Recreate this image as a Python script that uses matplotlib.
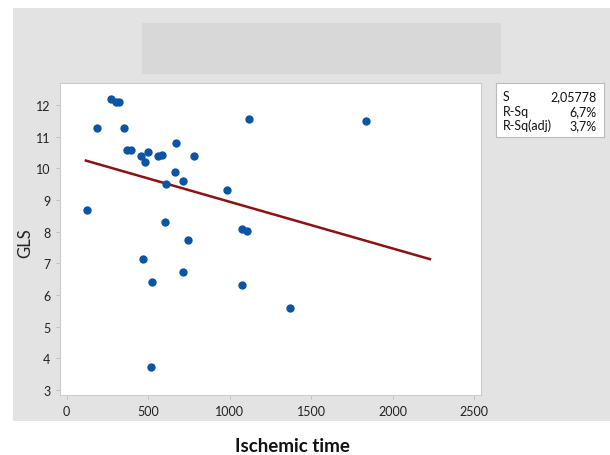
import matplotlib.pyplot as plt
from matplotlib.patches import Rectangle

# data
ischemic_time = [125, 184, 270, 302, 323, 352, 368, 394, 454, 480, 501, 558, 585,
                 611, 664, 671, 715, 781, 982, 1118, 605, 1077, 1106, 742, 468,
                 715, 525, 1077, 1368, 519, 1840]
gls = [8.68, 11.27, 12.17, 12.10, 12.09, 11.27, 10.57, 10.57, 10.38, 10.21, 10.51,
       10.38, 10.42, 9.50, 9.89, 10.79, 9.60, 10.38, 9.32, 11.56, 8.31, 8.08, 8.01,
       7.72, 7.13, 6.72, 6.42, 6.31, 5.60, 3.72, 11.49]
fit_x = [118, 2229]
fit_y = [10.24, 7.13]
stats_names = ["S", "R-Sq", "R-Sq(adj)"]
stats_values = ["2,05778", "6,7%", "3,7%"]
x_ticks = [0, 500, 1000, 1500, 2000, 2500]
y_ticks = [3, 4, 5, 6, 7, 8, 9, 10, 11, 12]

W, H = 610, 456
plt.rcParams['font.family'] = ['Lato', 'DejaVu Sans']

fig = plt.figure(figsize=(W / 100, H / 100), dpi=100)


def box(x0, y0, x1, y1):
    # pixel box (top-left origin) -> figure fraction
    return [x0 / W, 1 - y1 / H, (x1 - x0) / W, (y1 - y0) / H]


# grey panel and empty title box
for b, c in [(box(13, 9, 610, 422), "#e3e3e3"), (box(142, 24, 501, 75), "#d8d8d8")]:
    fig.patches.append(Rectangle(b[:2], b[2], b[3], transform=fig.transFigure,
                                 facecolor=c, edgecolor="none", zorder=-5))

ax = fig.add_axes(box(60, 84, 481, 396))
ax.set_facecolor("white")
ax.scatter(ischemic_time, gls, s=36, color="#0a55a5", zorder=3, linewidths=0)
ax.plot(fit_x, fit_y, color="#8e1111", lw=1.8, zorder=2)

ax.set_xlim(-41, 2543)
ax.set_ylim(2.84, 12.69)
ax.set_xticks(x_ticks)
ax.set_yticks(y_ticks)
ax.tick_params(length=3, width=0.6, color="#bbbbbb", labelsize=9,
               labelcolor="#222222", pad=4)
for sp in ax.spines.values():
    sp.set_color("#cccccc")
    sp.set_linewidth(0.8)

fig.text(25 / W, 1 - 243 / H, "GLS", rotation=90, ha="center", va="center",
         fontsize=12, color="#222222")
fig.text(292 / W, 1 - 447 / H, "Ischemic time", ha="center", va="center",
         fontsize=13.5, fontweight="bold", color="#111111")

# stats box
sb = fig.add_axes(box(496, 84, 604, 138))
sb.set_xticks([])
sb.set_yticks([])
sb.set_facecolor("white")
for sp in sb.spines.values():
    sp.set_color("#bbbbbb")
    sp.set_linewidth(0.8)
rows_y = [97, 112, 126]
for name, val, ry in zip(stats_names, stats_values, rows_y):
    fig.text(503 / W, 1 - ry / H, name, ha="left", va="center", fontsize=9,
             color="#111111")
    fig.text(597 / W, 1 - ry / H, val, ha="right", va="center", fontsize=9,
             color="#111111")

fig.savefig("out.png", dpi=100)
